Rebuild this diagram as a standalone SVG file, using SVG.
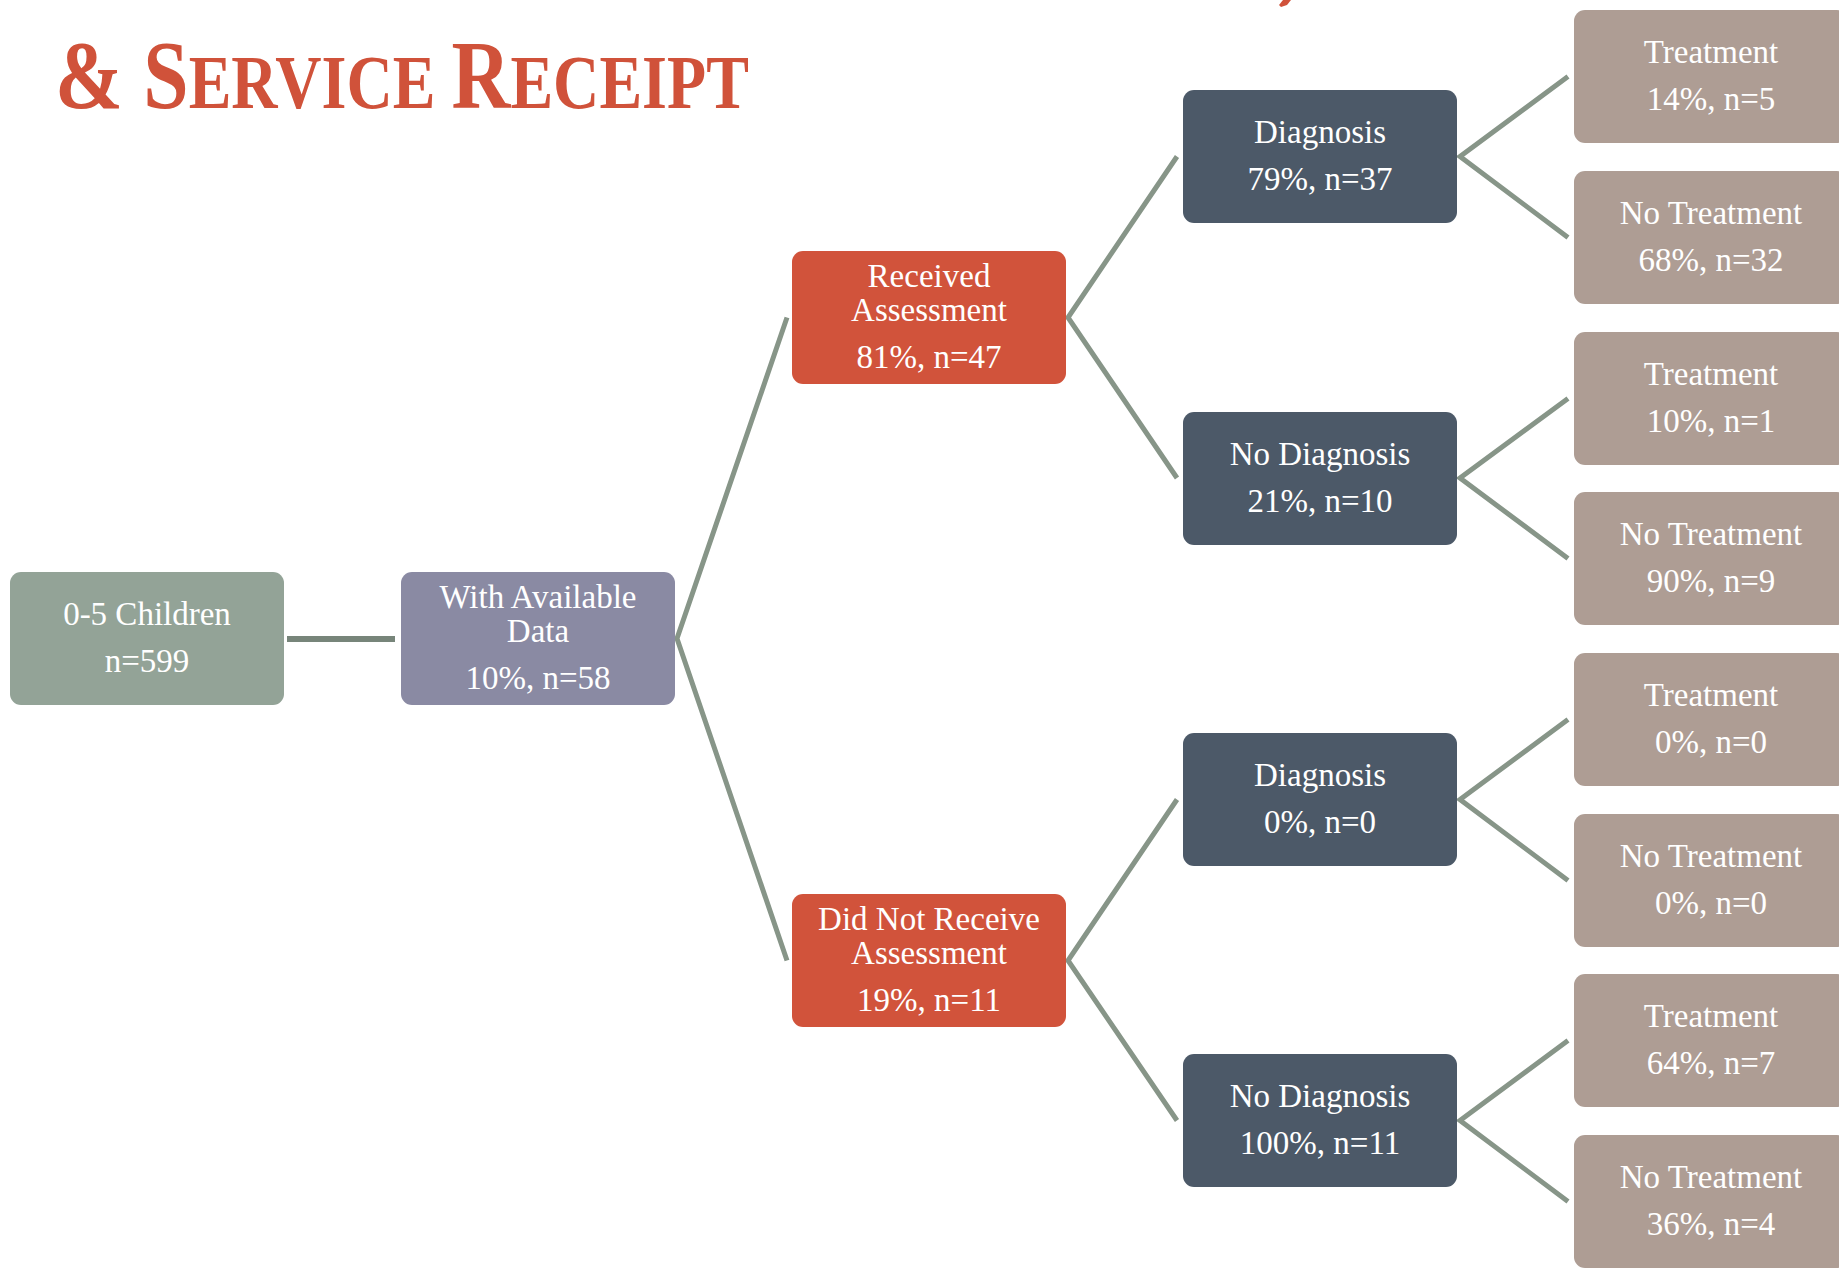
<svg xmlns="http://www.w3.org/2000/svg" width="1839" height="1271" viewBox="0 0 1839 1271">
<style>
.t{font-family:"Liberation Serif","Times New Roman",serif;font-size:33px;fill:#ffffff;text-anchor:middle}
.c0{fill:#93a397}.c1{fill:#8a8aa3}.c2{fill:#d1533b}.c3{fill:#4c5968}.c4{fill:#ae9d94}
.ln{fill:none;stroke:#879588;stroke-width:5;stroke-linejoin:miter}
.title{font-family:"Liberation Serif","Times New Roman",serif;font-weight:bold;fill:#d0523a}
.big{font-size:98px}.sm{font-size:77px}
</style>
<rect width="1839" height="1271" fill="#ffffff"/>
<polygon points="1283,0 1291,0 1287,5 1281,7 1279,5" fill="#d0523a"/>
<g id="title" transform="translate(55,108) scale(0.832,1)">
<text class="title" x="0" y="0"><tspan class="big">&amp; S</tspan><tspan class="sm">ERVICE </tspan><tspan class="big">R</tspan><tspan class="sm">ECEIPT</tspan></text>
</g>
<g id="connectors">
<line x1="287" y1="639" x2="395" y2="639" stroke="#77857a" stroke-width="6"/>
<polyline class="ln" points="787,317.5 677,638.5 787,960.5"/>
<polyline class="ln" points="1177,156.5 1068,317.5 1177,478"/>
<polyline class="ln" points="1177,799.5 1068,960.5 1177,1120.5"/>
<polyline class="ln" points="1568,76.5 1460,156.5 1568,237.5"/>
<polyline class="ln" points="1568,398.5 1460,478 1568,558.5"/>
<polyline class="ln" points="1568,719.5 1460,799.5 1568,880.5"/>
<polyline class="ln" points="1568,1040.5 1460,1120.5 1568,1201.5"/>
</g>
<g id="n-children"><rect class="c0" x="10" y="572" width="274" height="133" rx="11"/><text class="t" x="147" y="625">0-5 Children</text><text class="t" x="147" y="672">n=599</text></g>
<g id="n-available"><rect class="c1" x="401" y="572" width="274" height="133" rx="11"/><text class="t" x="538" y="608">With Available</text><text class="t" x="538" y="642">Data</text><text class="t" x="538" y="689">10%, n=58</text></g>
<g id="n-received"><rect class="c2" x="792" y="251" width="274" height="133" rx="11"/><text class="t" x="929" y="287">Received</text><text class="t" x="929" y="321">Assessment</text><text class="t" x="929" y="368">81%, n=47</text></g>
<g id="n-notreceived"><rect class="c2" x="792" y="894" width="274" height="133" rx="11"/><text class="t" x="929" y="930">Did Not Receive</text><text class="t" x="929" y="964">Assessment</text><text class="t" x="929" y="1011">19%, n=11</text></g>
<g id="n-diag1"><rect class="c3" x="1183" y="90" width="274" height="133" rx="11"/><text class="t" x="1320" y="143">Diagnosis</text><text class="t" x="1320" y="190">79%, n=37</text></g>
<g id="n-nodiag1"><rect class="c3" x="1183" y="412" width="274" height="133" rx="11"/><text class="t" x="1320" y="465">No Diagnosis</text><text class="t" x="1320" y="512">21%, n=10</text></g>
<g id="n-diag2"><rect class="c3" x="1183" y="733" width="274" height="133" rx="11"/><text class="t" x="1320" y="786">Diagnosis</text><text class="t" x="1320" y="833">0%, n=0</text></g>
<g id="n-nodiag2"><rect class="c3" x="1183" y="1054" width="274" height="133" rx="11"/><text class="t" x="1320" y="1107">No Diagnosis</text><text class="t" x="1320" y="1154">100%, n=11</text></g>
<g id="n-t1"><rect class="c4" x="1574" y="10" width="274" height="133" rx="11"/><text class="t" x="1711" y="63">Treatment</text><text class="t" x="1711" y="110">14%, n=5</text></g>
<g id="n-nt1"><rect class="c4" x="1574" y="171" width="274" height="133" rx="11"/><text class="t" x="1711" y="224">No Treatment</text><text class="t" x="1711" y="271">68%, n=32</text></g>
<g id="n-t2"><rect class="c4" x="1574" y="332" width="274" height="133" rx="11"/><text class="t" x="1711" y="385">Treatment</text><text class="t" x="1711" y="432">10%, n=1</text></g>
<g id="n-nt2"><rect class="c4" x="1574" y="492" width="274" height="133" rx="11"/><text class="t" x="1711" y="545">No Treatment</text><text class="t" x="1711" y="592">90%, n=9</text></g>
<g id="n-t3"><rect class="c4" x="1574" y="653" width="274" height="133" rx="11"/><text class="t" x="1711" y="706">Treatment</text><text class="t" x="1711" y="753">0%, n=0</text></g>
<g id="n-nt3"><rect class="c4" x="1574" y="814" width="274" height="133" rx="11"/><text class="t" x="1711" y="867">No Treatment</text><text class="t" x="1711" y="914">0%, n=0</text></g>
<g id="n-t4"><rect class="c4" x="1574" y="974" width="274" height="133" rx="11"/><text class="t" x="1711" y="1027">Treatment</text><text class="t" x="1711" y="1074">64%, n=7</text></g>
<g id="n-nt4"><rect class="c4" x="1574" y="1135" width="274" height="133" rx="11"/><text class="t" x="1711" y="1188">No Treatment</text><text class="t" x="1711" y="1235">36%, n=4</text></g>
</svg>
